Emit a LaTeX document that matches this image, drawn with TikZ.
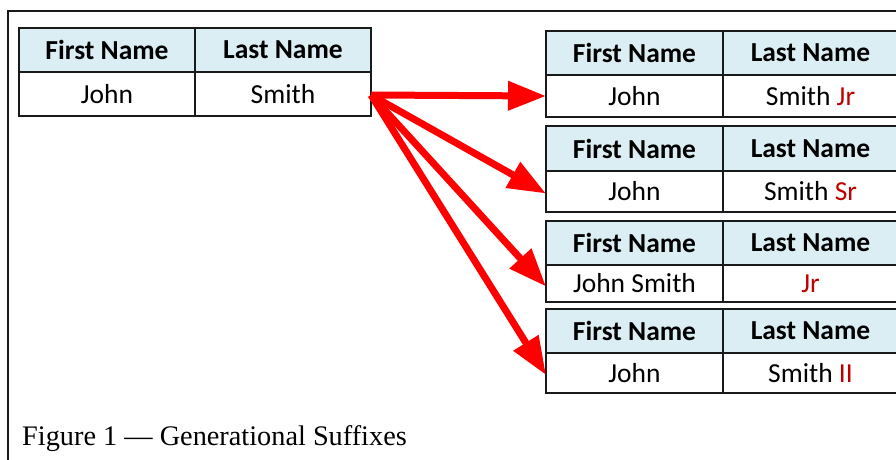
\documentclass[tikz,border=0pt]{standalone}
\usepackage{fontspec}
\usetikzlibrary{arrows.meta}
\newfontfamily\tabfont{Carlito}
\newfontfamily\capfont{Liberation Serif}
\definecolor{hdrblue}{HTML}{DAEEF3}
\definecolor{sufred}{HTML}{C00000}
\definecolor{gridc}{HTML}{1A1A1A}
\tikzset{
  cell/.style={draw=gridc, line width=2pt, inner sep=0pt, outer sep=0pt,
    font=\tabfont\fontsize{27.5}{30}\selectfont, text=black},
  hdr/.style={cell, fill=hdrblue, font=\tabfont\bfseries\fontsize{27.5}{30}\selectfont},
  dat/.style={cell, fill=white},
  arr/.style={draw=red, line width=7pt, -{Triangle[length=38pt,width=28pt]}},
  frame/.style={draw=gridc, line width=2pt}
}
% #1 name, #2 x0, #3 x1, #4 x2, #5 y0, #6 y1, #7 y2, #8 data1, #9 data2
\newcommand\mytable[9]{%
  \node[hdr, minimum width={(#3-#2)*1pt}, minimum height={(#6-#5)*1pt}] (#1-h1) at ({(#2+#3)/2},{(#5+#6)/2}) {First Name};
  \node[hdr, minimum width={(#4-#3)*1pt}, minimum height={(#6-#5)*1pt}] (#1-h2) at ({(#3+#4)/2},{(#5+#6)/2}) {Last Name};
  \node[dat, minimum width={(#3-#2)*1pt}, minimum height={(#7-#6)*1pt}] (#1-d1) at ({(#2+#3)/2},{(#6+#7)/2}) {#8};
  \node[dat, minimum width={(#4-#3)*1pt}, minimum height={(#7-#6)*1pt}] (#1-d2) at ({(#3+#4)/2},{(#6+#7)/2}) {#9};
}
\begin{document}
\begin{tikzpicture}[x=1pt,y=-1pt]
\useasboundingbox[fill=white] (0,0) rectangle (896,460);
\clip (0,0) rectangle (896,460);
\draw[frame] (8,480) -- (8,11) -- (910,11);
\mytable{src}{19}{195}{371}{28}{72}{116}{John}{Smith}
\mytable{ra}{546}{723}{898}{31}{75}{117}{John}{Smith \textcolor{sufred}{Jr}}
\mytable{rb}{546}{723}{898}{126}{171}{212}{John}{Smith \textcolor{sufred}{Sr}}
\mytable{rc}{546}{723}{898}{221}{265}{302}{John Smith}{\textcolor{sufred}{Jr}}
\mytable{rd}{546}{723}{898}{309}{353}{393}{John}{Smith \textcolor{sufred}{II}}
\coordinate (s) at ([yshift=-1pt]src-d2.east);
\draw[arr] (s) -- (ra-d1.west);
\draw[arr] (s) -- ([yshift=-2pt]rb-d1.west);
\draw[arr] (s) -- ([yshift=-3pt]rc-d1.west);
\draw[arr] (s) -- ([yshift=-2pt]rd-d1.west);
\node[anchor=base west, inner sep=0pt, font=\capfont\fontsize{28.3}{31}\selectfont] (cap) at (22,445) {Figure 1 — Generational Suffixes};
\end{tikzpicture}
\end{document}
